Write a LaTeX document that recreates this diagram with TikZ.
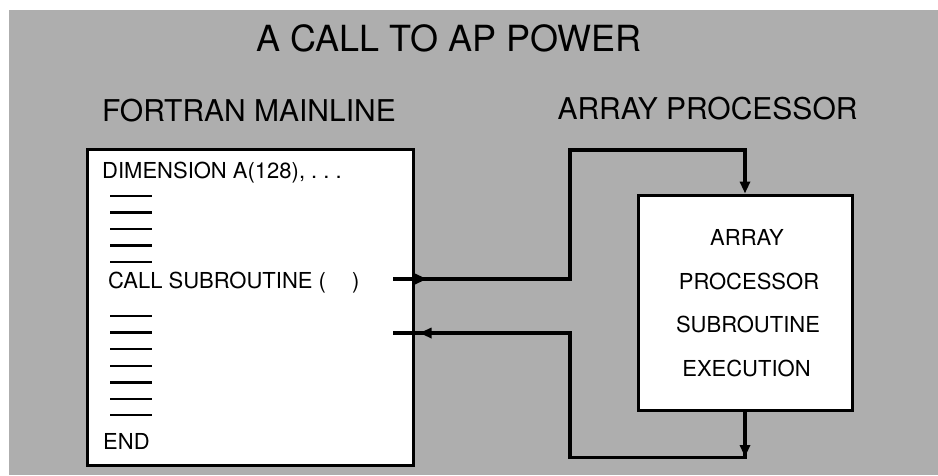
\documentclass[tikz,border=0pt]{standalone}
\usepackage{fontspec}
\setmainfont{TeX Gyre Heros}
\usetikzlibrary{arrows.meta,decorations.markings}
\definecolor{panelgray}{RGB}{174,174,174}
\begin{document}
\begin{tikzpicture}[x=1pt,y=-1pt,
  >={Triangle[length=12pt,width=10pt]},
  box/.style={draw=black,line width=3pt,fill=white,inner sep=0pt},
  conn/.style={line width=3.2pt},
  titletext/.style={font=\fontsize{36}{40}\selectfont,inner sep=0pt,anchor=base},
  headtext/.style={font=\fontsize{30}{34}\selectfont,inner sep=0pt,anchor=base},
  codetext/.style={font=\fontsize{22}{26}\selectfont,inner sep=0pt,anchor=base west},
  aptext/.style={font=\fontsize{22}{26}\selectfont,inner sep=0pt,anchor=base},
  codeline/.style={line width=2.6pt}]
  \useasboundingbox (0,0) rectangle (938,475);
  % panel
  \fill[panelgray] (9,10) rectangle (938,475);

  % headings
  \node[titletext] (title) at (449,51) {A CALL TO AP POWER};
  \node[headtext] (mainhead) at (249,121) {FORTRAN MAINLINE};
  \node[headtext] (aphead) at (707.5,119) {ARRAY PROCESSOR};

  % the two boxes
  \node[box,minimum width=326pt,minimum height=316pt] (main) at (250,307) {};
  \node[box,minimum width=214pt,minimum height=215pt] (ap) at (745,302.5) {};

  % FORTRAN listing
  \node[codetext] (dim) at (102,178) {DIMENSION A(128), .\ .\ .};
  \node[codetext] (call) at (108,288) {CALL SUBROUTINE (\hspace{26pt})};
  \node[codetext] (end) at (103,449) {END};
  \foreach \y in {196,212.5,229,245.5,262,316,332.5,349,366,382.5,399,415}
    \draw[codeline] (110,\y) -- (152,\y);

  % array processor routine
  \node[aptext] (ap1) at (747,245.7) {ARRAY};
  \node[aptext] (ap2) at (749,289.3) {PROCESSOR};
  \node[aptext] (ap3) at (748,332.7) {SUBROUTINE};
  \node[aptext] (ap4) at (746.5,376.7) {EXECUTION};

  % call and return paths
  \coordinate (callout) at (393,279);
  \coordinate (retin) at (393,333);
  \draw[conn,->,postaction={decorate},
        decoration={markings,mark=at position 34pt with {\arrow{>}}}]
    (callout) -- (570,279) -- (570,150) -| (ap.north);
  \draw[conn,postaction={decorate},
        decoration={markings,
          mark=at position 45.5pt with {\arrow{>}},
          mark=at position 496pt with {\arrow{>}}}]
    (ap.south) -- ++(0,46) -| (570,333) -- (retin);
\end{tikzpicture}
\end{document}
